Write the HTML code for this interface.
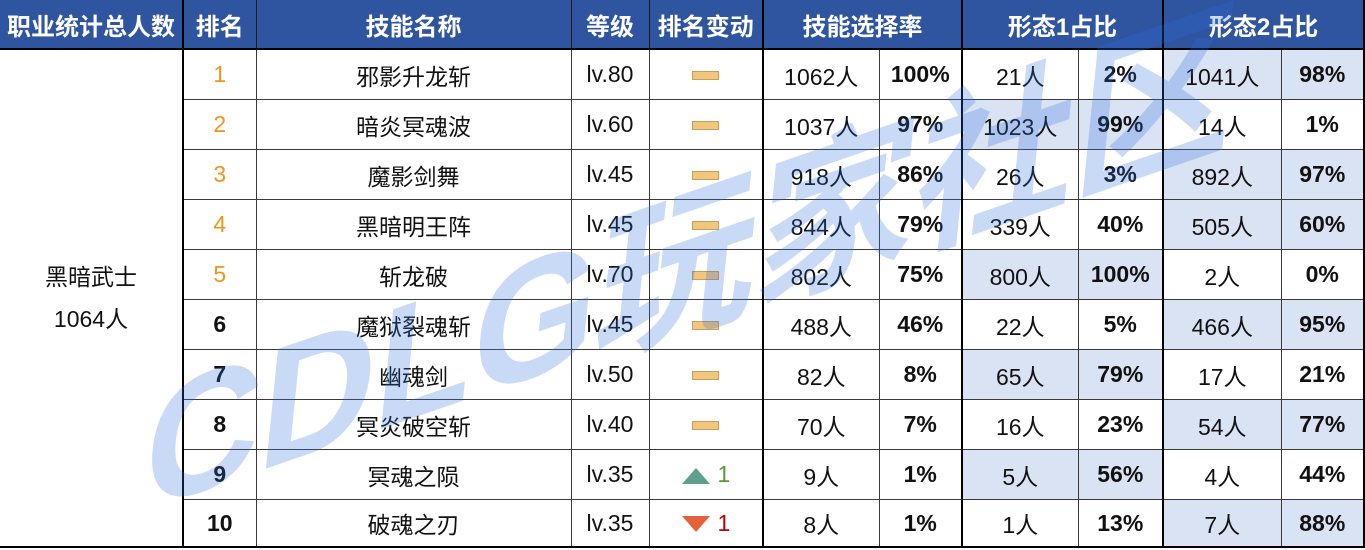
<!DOCTYPE html>
<html>
<head>
<meta charset="utf-8">
<style>
html,body{margin:0;padding:0;background:#fff;}
body{width:1365px;height:550px;overflow:hidden;position:relative;font-family:"Liberation Sans","Noto Sans CJK SC",sans-serif;}
table{position:absolute;left:0;top:0;border-collapse:collapse;table-layout:fixed;width:1364px;}
th{background:#2F54A0;color:#fff;font-weight:bold;font-size:24px;height:48px;border:1px solid #1a1a1a;border-bottom:2px solid #000;border-top:none;padding:0;text-align:center;vertical-align:middle;}
td{border:1px solid #3a3a3a;height:49px;padding:0;text-align:center;vertical-align:middle;font-size:23px;color:#111;}
.tk{border-left:2px solid #000;}
.b{font-weight:bold;}
.hl{background:#DAE3F3;}
.o{color:#F0941C;}
.dash{display:inline-block;width:25px;height:7px;background:#F2C67C;border:1px solid #C4A05A;vertical-align:middle;}
.first{border-left:none;border-bottom:2px solid #000;font-size:23px;line-height:42px;}
tr.last td{border-bottom:2px solid #000;height:46px;}
td.re{border-right:2px solid #000;}
th.re{border-right:2px solid #000;}
th.le{border-left:none;}
.up{color:#5B9A3A;}
.dn{color:#C00000;}
svg.wm{position:absolute;left:0;top:0;pointer-events:none;}
</style>
</head>
<body>
<table>
<colgroup>
<col style="width:183px"><col style="width:73px"><col style="width:315px"><col style="width:78px"><col style="width:114px"><col style="width:116px"><col style="width:83px"><col style="width:116px"><col style="width:85px"><col style="width:118px"><col style="width:83px">
</colgroup>
<tr>
<th class="le">职业统计总人数</th>
<th class="tk">排名</th>
<th>技能名称</th>
<th>等级</th>
<th>排名变动</th>
<th colspan="2" class="tk">技能选择率</th>
<th colspan="2" class="tk">形态1占比</th>
<th colspan="2" class="tk re">形态2占比</th>
</tr>
<tr>
<td rowspan="10" class="first">黑暗武士<br>1064人</td>
<td class="tk o">1</td><td>邪影升龙斩</td><td>lv.80</td><td><span class="dash"></span></td>
<td class="tk">1062人</td><td class="b">100%</td>
<td class="tk">21人</td><td class="b">2%</td>
<td class="tk hl">1041人</td><td class="b hl re">98%</td>
</tr>
<tr>
<td class="tk o">2</td><td>暗炎冥魂波</td><td>lv.60</td><td><span class="dash"></span></td>
<td class="tk">1037人</td><td class="b">97%</td>
<td class="tk hl">1023人</td><td class="b hl">99%</td>
<td class="tk">14人</td><td class="b re">1%</td>
</tr>
<tr>
<td class="tk o">3</td><td>魔影剑舞</td><td>lv.45</td><td><span class="dash"></span></td>
<td class="tk">918人</td><td class="b">86%</td>
<td class="tk">26人</td><td class="b">3%</td>
<td class="tk hl">892人</td><td class="b hl re">97%</td>
</tr>
<tr>
<td class="tk o">4</td><td>黑暗明王阵</td><td>lv.45</td><td><span class="dash"></span></td>
<td class="tk">844人</td><td class="b">79%</td>
<td class="tk">339人</td><td class="b">40%</td>
<td class="tk hl">505人</td><td class="b hl re">60%</td>
</tr>
<tr>
<td class="tk o">5</td><td>斩龙破</td><td>lv.70</td><td><span class="dash"></span></td>
<td class="tk">802人</td><td class="b">75%</td>
<td class="tk hl">800人</td><td class="b hl">100%</td>
<td class="tk">2人</td><td class="b re">0%</td>
</tr>
<tr>
<td class="tk b">6</td><td>魔狱裂魂斩</td><td>lv.45</td><td><span class="dash"></span></td>
<td class="tk">488人</td><td class="b">46%</td>
<td class="tk">22人</td><td class="b">5%</td>
<td class="tk hl">466人</td><td class="b hl re">95%</td>
</tr>
<tr>
<td class="tk b">7</td><td>幽魂剑</td><td>lv.50</td><td><span class="dash"></span></td>
<td class="tk">82人</td><td class="b">8%</td>
<td class="tk hl">65人</td><td class="b hl">79%</td>
<td class="tk">17人</td><td class="b re">21%</td>
</tr>
<tr>
<td class="tk b">8</td><td>冥炎破空斩</td><td>lv.40</td><td><span class="dash"></span></td>
<td class="tk">70人</td><td class="b">7%</td>
<td class="tk">16人</td><td class="b">23%</td>
<td class="tk hl">54人</td><td class="b hl re">77%</td>
</tr>
<tr>
<td class="tk b">9</td><td>冥魂之陨</td><td>lv.35</td>
<td><svg width="30" height="18" style="vertical-align:middle"><polygon points="1,17 15,1 29,17" fill="#5FA08C"/></svg> <span class="up">1</span></td>
<td class="tk">9人</td><td class="b">1%</td>
<td class="tk hl">5人</td><td class="b hl">56%</td>
<td class="tk">4人</td><td class="b re">44%</td>
</tr>
<tr class="last">
<td class="tk b">10</td><td>破魂之刃</td><td>lv.35</td>
<td><svg width="30" height="18" style="vertical-align:middle"><polygon points="1,1 29,1 15,17" fill="#E4613A"/></svg> <span class="dn">1</span></td>
<td class="tk">8人</td><td class="b">1%</td>
<td class="tk">1人</td><td class="b">13%</td>
<td class="tk hl">7人</td><td class="b hl re">88%</td>
</tr>
</table>
<svg class="wm" width="1365" height="550" viewBox="0 0 1365 550">
<g transform="translate(140,512) skewY(-19) skewX(-6)">
<text x="0" y="0" font-family="Liberation Sans, Noto Sans CJK SC, sans-serif" font-weight="bold" font-size="168" textLength="1090" lengthAdjust="spacingAndGlyphs" fill="rgba(47,111,224,0.26)">CDLG玩家社区</text>
</g>
</svg>
</body>
</html>
